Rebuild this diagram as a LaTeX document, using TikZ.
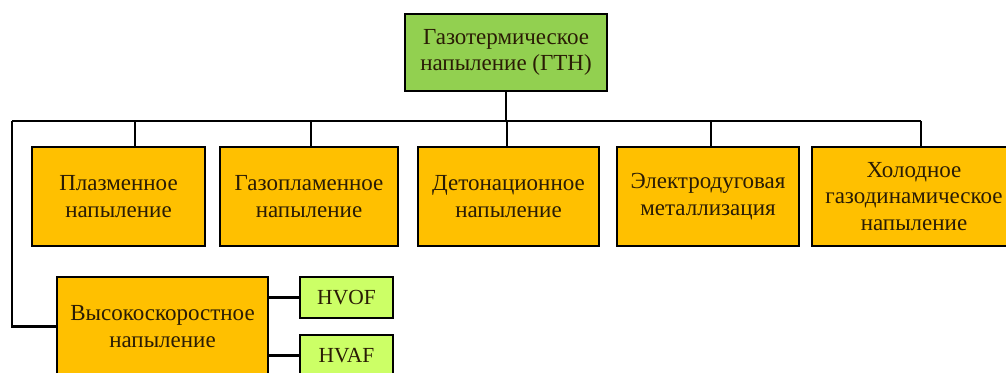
\documentclass[tikz,border=0pt]{standalone}
\usepackage{fontspec}
\setmainfont{Liberation Serif}
\newfontfamily\tnr{Liberation Serif}
\definecolor{orangebox}{HTML}{FFC000}
\definecolor{greentop}{HTML}{92D050}
\definecolor{limebox}{HTML}{CCFF66}
\definecolor{txt}{HTML}{2A1C05}
\begin{document}
\begin{tikzpicture}[x=1pt,y=-1pt,line width=2.8pt,
  box/.style={draw=black, rectangle, inner sep=0pt, align=center,
    font=\tnr\fontsize{23pt}{26.5pt}\selectfont, text=txt},
  orange/.style={box, fill=orangebox, minimum height=99pt},
  small/.style={box, fill=limebox, minimum width=93pt, minimum height=41pt,
    font=\tnr\fontsize{21.5pt}{26pt}\selectfont},
  link/.style={draw=black, line width=2.8pt}]
\useasboundingbox (0,0) rectangle (1006,372);
\clip (0,0) rectangle (1006,372);
\fill[white] (0,0) rectangle (1006,372);
\node[box, fill=greentop, minimum width=202pt, minimum height=77pt] (gtn) at (506,52.5)
  {Газотермическое\\напыление (ГТН)};
\node[orange, minimum width=173pt] (b1) at (118.5,196.5) {Плазменное\\напыление};
\node[orange, minimum width=178pt] (b2) at (309,196.5) {Газопламенное\\напыление};
\node[orange, minimum width=181pt] (b3) at (508.5,196.5) {Детонационное\\напыление};
\node[orange, minimum width=182pt] (b4) at (708,196.5) {Электродуговая\\металлизация};
\node[orange, minimum width=204pt] (b5) at (914,196.5) {Холодное\\газодинамическое\\напыление};
\node[orange, minimum width=211pt] (hs) at (162.5,326.5) {Высокоскоростное\\напыление};
\node[small] (hvof) at (346.5,297.5) {HVOF};
\node[small] (hvaf) at (346.5,355.5) {HVAF};
\coordinate (barL) at (12,121);
\coordinate (barR) at ([xshift=7pt]b5.north |- barL);
\draw[link] (gtn.south) -- (gtn.south |- barL);
\draw[link] (barL) -- (barR);
\draw[link] ([xshift=16.5pt]b1.north) -- ([xshift=16.5pt]b1.north |- barL);
\draw[link] ([xshift=2pt]b2.north) -- ([xshift=2pt]b2.north |- barL);
\draw[link] ([xshift=-1.5pt]b3.north) -- ([xshift=-1.5pt]b3.north |- barL);
\draw[link] ([xshift=3pt]b4.north) -- ([xshift=3pt]b4.north |- barL);
\draw[link] ([xshift=7pt]b5.north) -- (barR);
\draw[link] (barL) |- (hs.west);
\draw[link] (hs.east |- hvof.west) -- (hvof.west);
\draw[link] (hs.east |- hvaf.west) -- (hvaf.west);
\end{tikzpicture}
\end{document}
